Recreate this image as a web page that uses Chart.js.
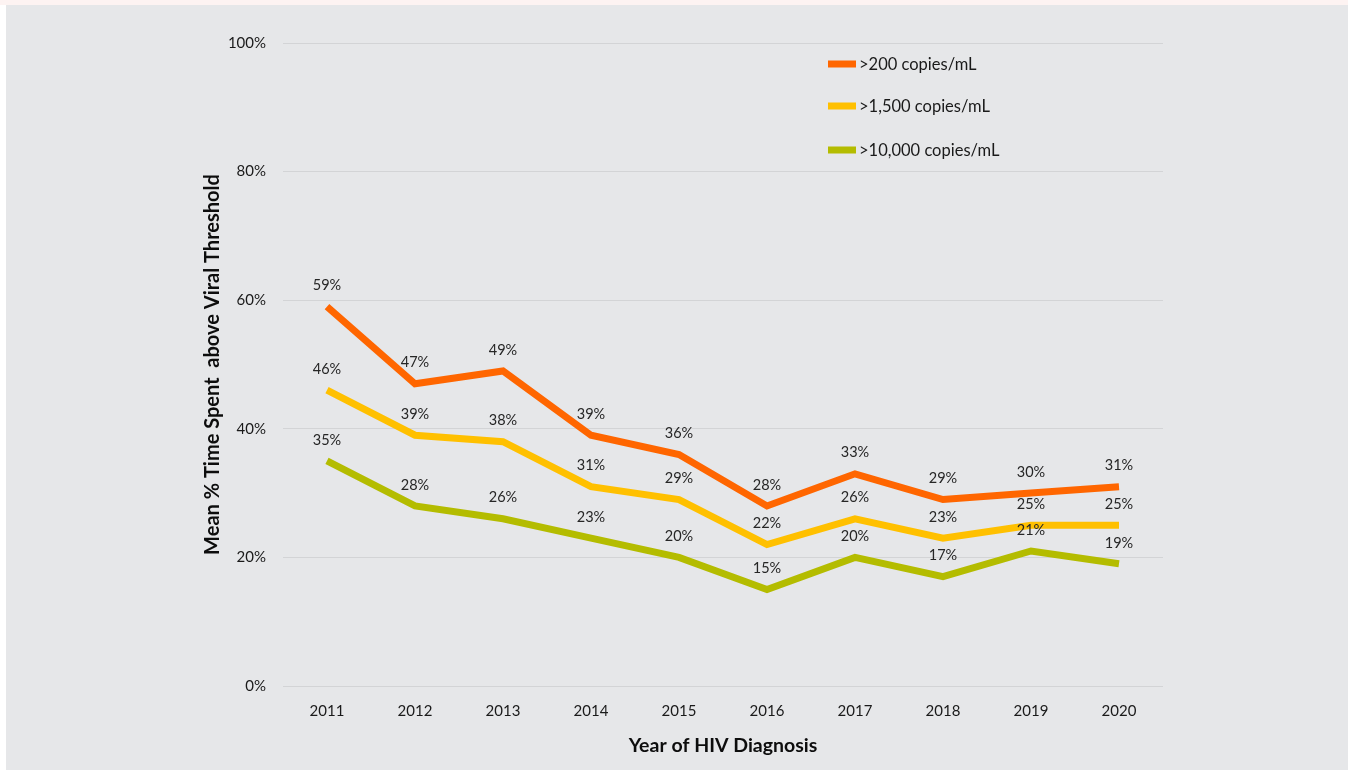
<!DOCTYPE html>
<html>
<head>
<meta charset="utf-8">
<script src="https://cdn.jsdelivr.net/npm/chart.js@4.4.1/dist/chart.umd.min.js"></script>
<style>
  html, body { margin: 0; padding: 0; background: #ffffff; }
  #strip { position: absolute; left: 0; top: 0; width: 1348px; height: 5px; background: #fdf3f2; }
  #panel { position: absolute; left: 6px; top: 5px; width: 1342px; height: 765px; background: #e6e7e9; }
</style>
</head>
<body>
<div id="strip"></div>
<div id="panel"><canvas id="myChart" width="1342" height="765"></canvas></div>
<script>
const years = ['2011', '2012', '2013', '2014', '2015', '2016', '2017', '2018', '2019', '2020'];
const seriesNames = ['>200 copies/mL', '>1,500 copies/mL', '>10,000 copies/mL'];
const above200 = [59, 47, 49, 39, 36, 28, 33, 29, 30, 31];
const above1500 = [46, 39, 38, 31, 29, 22, 26, 23, 25, 25];
const above10000 = [35, 28, 26, 23, 20, 15, 20, 17, 21, 19];
const yTicks = [0, 20, 40, 60, 80, 100];

const font = 'Lato, "Open Sans", sans-serif';

// value labels above each point
const pointLabels = {
    id: 'pointLabels',
    afterDatasetsDraw(chart) {
        const c = chart.ctx;
        c.save();
        c.font = '14.5px ' + font;
        c.fillStyle = '#262626';
        c.textAlign = 'center';
        c.textBaseline = 'middle';
        chart.data.datasets.forEach((ds, i) => {
            chart.getDatasetMeta(i).data.forEach((pt, j) => {
                c.fillText(ds.data[j] + '%', pt.x, pt.y - 21);
            });
        });
        c.restore();
    }
};

// vertical legend inside plot area
const sideLegend = {
    id: 'sideLegend',
    afterDraw(chart) {
        const c = chart.ctx;
        const x = 822, rowsY = [59, 101, 145];
        c.save();
        c.font = '16.5px ' + font;
        c.textBaseline = 'middle';
        c.textAlign = 'left';
        chart.data.datasets.forEach((ds, i) => {
            c.fillStyle = ds.borderColor;
            c.fillRect(x, rowsY[i] - 3.5, 28, 7);
            c.fillStyle = '#1a1a1a';
            c.fillText(ds.label, x + 31, rowsY[i] + 1);
        });
        c.restore();
    }
};

const ctx = document.getElementById('myChart').getContext('2d');
const myChart = new Chart(ctx, {
    type: 'line',
    data: {
        labels: years,
        datasets: [
            { label: seriesNames[0], data: above200, borderColor: '#ff6600' },
            { label: seriesNames[1], data: above1500, borderColor: '#ffc000' },
            { label: seriesNames[2], data: above10000, borderColor: '#b4bc00' }
        ].map(d => Object.assign(d, {
            borderWidth: 7,
            pointRadius: 0,
            tension: 0,
            fill: false,
            borderJoinStyle: 'miter',
            borderCapStyle: 'butt'
        }))
    },
    options: {
        responsive: false,
        animation: false,
        layout: { padding: { left: 190, right: 185, top: 38, bottom: 0 } },
        plugins: {
            legend: { display: false },
            tooltip: { enabled: false }
        },
        scales: {
            x: {
                offset: true,
                grid: { display: false },
                border: { display: false },
                ticks: { color: '#1a1a1a', font: { family: font, size: 15 }, padding: 8 },
                title: {
                    display: true,
                    text: 'Year of HIV Diagnosis',
                    color: '#0d0d0d',
                    font: { family: font, size: 19.5, weight: 'bold' },
                    padding: { top: 0, bottom: 13 }
                },
                afterFit(scale) { scale.height = 84; }
            },
            y: {
                min: 0,
                max: 100,
                afterBuildTicks(scale) { scale.ticks = yTicks.map(v => ({ value: v })); },
                grid: { color: '#d3d4d6', lineWidth: 1, drawTicks: false },
                border: { display: false },
                ticks: {
                    color: '#1a1a1a',
                    font: { family: font, size: 15 },
                    padding: 17,
                    callback: v => v + '%'
                },
                title: {
                    display: true,
                    text: 'Mean % Time Spent  above Viral Threshold',
                    color: '#0d0d0d',
                    font: { family: font, size: 20, weight: 'bold' },
                    padding: { top: 5, bottom: 0 }
                },
                afterFit(scale) { scale.width = 87; }
            }
        }
    },
    plugins: [pointLabels, sideLegend]
});
</script>
</body>
</html>
